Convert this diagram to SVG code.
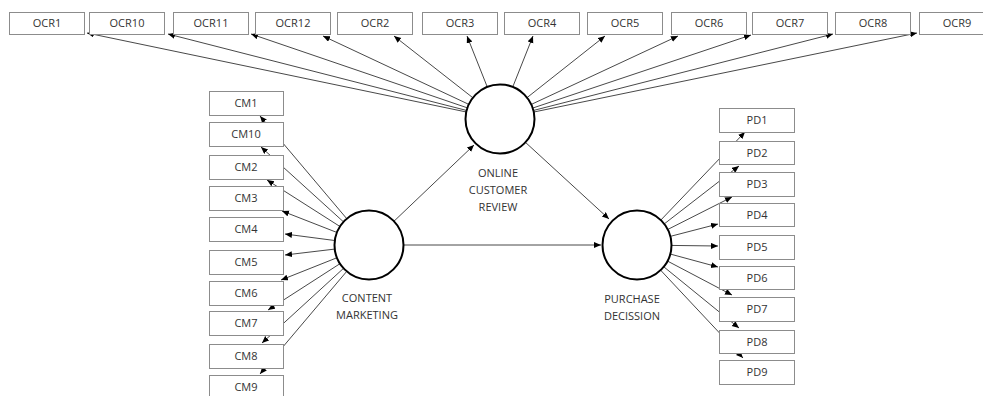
<svg xmlns="http://www.w3.org/2000/svg" width="983" height="396" viewBox="0 0 983 396">
<style>
.box{fill:#fff;stroke:#8c8c8c;stroke-width:1}
.lv{fill:#fff;stroke:#000;stroke-width:2}
.t{font-family:"Open Sans","Noto Sans",sans-serif;font-size:11px;fill:#333;text-anchor:middle}
.c{stroke:#333;stroke-width:0.9;fill:none;marker-end:url(#ah)}
</style>
<defs>
<marker id="ah" markerUnits="userSpaceOnUse" markerWidth="8" markerHeight="7" refX="7" refY="3" orient="auto">
<path d="M0,0 L7,3 L0,6 z" fill="#000"/>
</marker>
</defs>
<rect width="983" height="396" fill="#fff"/>
<g id="connectors">
<path class="c" d="M500,119 L87,33"/>
<path class="c" d="M500,119 L168,34"/>
<path class="c" d="M500,119 L251,34"/>
<path class="c" d="M500,119 L323,36"/>
<path class="c" d="M500,119 L394,36"/>
<path class="c" d="M500,119 L467,36"/>
<path class="c" d="M500,119 L533,36"/>
<path class="c" d="M500,119 L605,36"/>
<path class="c" d="M500,119 L678,36"/>
<path class="c" d="M500,119 L751,35"/>
<path class="c" d="M500,119 L833,34"/>
<path class="c" d="M500,119 L917,33"/>
<path class="c" d="M369,245 L260,116"/>
<path class="c" d="M369,245 L261,147"/>
<path class="c" d="M369,245 L267,180"/>
<path class="c" d="M369,245 L282,211"/>
<path class="c" d="M369,245 L285,234"/>
<path class="c" d="M369,245 L285,255"/>
<path class="c" d="M369,245 L281,280"/>
<path class="c" d="M369,245 L268,310"/>
<path class="c" d="M369,245 L262,343"/>
<path class="c" d="M369,245 L260,374"/>
<path class="c" d="M637,245 L745,132"/>
<path class="c" d="M637,245 L739,166"/>
<path class="c" d="M637,245 L732,197"/>
<path class="c" d="M637,245 L718,224"/>
<path class="c" d="M637,245 L718,246"/>
<path class="c" d="M637,245 L718,267"/>
<path class="c" d="M637,245 L732,295"/>
<path class="c" d="M637,245 L739,328"/>
<path class="c" d="M637,245 L743,358"/>
<path class="c" d="M369,245 L474,145"/>
<path class="c" d="M369,245 L601,245"/>
<path class="c" d="M500,119 L609,219"/>
</g>
<g id="OCR1"><rect class="box" x="9.5" y="12.5" width="75" height="22"/><text class="t" x="47" y="27">OCR1</text></g>
<g id="OCR10"><rect class="box" x="89.5" y="12.5" width="75" height="22"/><text class="t" x="127" y="27">OCR10</text></g>
<g id="OCR11"><rect class="box" x="173.5" y="12.5" width="75" height="22"/><text class="t" x="211" y="27">OCR11</text></g>
<g id="OCR12"><rect class="box" x="255.5" y="12.5" width="75" height="22"/><text class="t" x="293" y="27">OCR12</text></g>
<g id="OCR2"><rect class="box" x="337.5" y="12.5" width="75" height="22"/><text class="t" x="375" y="27">OCR2</text></g>
<g id="OCR3"><rect class="box" x="422.5" y="12.5" width="75" height="22"/><text class="t" x="460" y="27">OCR3</text></g>
<g id="OCR4"><rect class="box" x="504.5" y="12.5" width="75" height="22"/><text class="t" x="542" y="27">OCR4</text></g>
<g id="OCR5"><rect class="box" x="587.5" y="12.5" width="75" height="22"/><text class="t" x="625" y="27">OCR5</text></g>
<g id="OCR6"><rect class="box" x="671.5" y="12.5" width="75" height="22"/><text class="t" x="709" y="27">OCR6</text></g>
<g id="OCR7"><rect class="box" x="752.5" y="12.5" width="75" height="22"/><text class="t" x="790" y="27">OCR7</text></g>
<g id="OCR8"><rect class="box" x="835.5" y="12.5" width="75" height="22"/><text class="t" x="873" y="27">OCR8</text></g>
<g id="OCR9"><rect class="box" x="919.5" y="12.5" width="75" height="22"/><text class="t" x="957" y="27">OCR9</text></g>
<g id="CM1"><rect class="box" x="209.5" y="91.5" width="74" height="24"/><text class="t" x="246" y="107">CM1</text></g>
<g id="CM10"><rect class="box" x="209.5" y="122.5" width="74" height="24"/><text class="t" x="246" y="138">CM10</text></g>
<g id="CM2"><rect class="box" x="209.5" y="155.5" width="74" height="24"/><text class="t" x="246" y="171">CM2</text></g>
<g id="CM3"><rect class="box" x="209.5" y="186.5" width="74" height="24"/><text class="t" x="246" y="202">CM3</text></g>
<g id="CM4"><rect class="box" x="209.5" y="217.5" width="74" height="24"/><text class="t" x="246" y="233">CM4</text></g>
<g id="CM5"><rect class="box" x="209.5" y="250.5" width="74" height="24"/><text class="t" x="246" y="266">CM5</text></g>
<g id="CM6"><rect class="box" x="209.5" y="281.5" width="74" height="24"/><text class="t" x="246" y="297">CM6</text></g>
<g id="CM7"><rect class="box" x="209.5" y="311.5" width="74" height="24"/><text class="t" x="246" y="327">CM7</text></g>
<g id="CM8"><rect class="box" x="209.5" y="344.5" width="74" height="24"/><text class="t" x="246" y="360">CM8</text></g>
<g id="CM9"><rect class="box" x="209.5" y="375.5" width="74" height="24"/><text class="t" x="246" y="391">CM9</text></g>
<g id="PD1"><rect class="box" x="719.5" y="108.5" width="75" height="24"/><text class="t" x="757" y="124">PD1</text></g>
<g id="PD2"><rect class="box" x="719.5" y="141.5" width="75" height="23"/><text class="t" x="757" y="157">PD2</text></g>
<g id="PD3"><rect class="box" x="719.5" y="172.5" width="75" height="24"/><text class="t" x="757" y="188">PD3</text></g>
<g id="PD4"><rect class="box" x="719.5" y="203.5" width="75" height="23"/><text class="t" x="757" y="219">PD4</text></g>
<g id="PD5"><rect class="box" x="719.5" y="235.5" width="75" height="24"/><text class="t" x="757" y="251">PD5</text></g>
<g id="PD6"><rect class="box" x="719.5" y="266.5" width="75" height="23"/><text class="t" x="757" y="282">PD6</text></g>
<g id="PD7"><rect class="box" x="719.5" y="297.5" width="75" height="24"/><text class="t" x="757" y="313">PD7</text></g>
<g id="PD8"><rect class="box" x="719.5" y="330.5" width="75" height="23"/><text class="t" x="757" y="346">PD8</text></g>
<g id="PD9"><rect class="box" x="719.5" y="360.5" width="75" height="24"/><text class="t" x="757" y="376">PD9</text></g>
<g id="ONLINE_CUSTOMER_REVIEW"><circle class="lv" cx="500" cy="119" r="34.5"/><text class="t" x="498" y="177">ONLINE</text><text class="t" x="498" y="194">CUSTOMER</text><text class="t" x="498" y="211">REVIEW</text></g>
<g id="CONTENT_MARKETING"><circle class="lv" cx="369" cy="245" r="34.5"/><text class="t" x="367" y="302">CONTENT</text><text class="t" x="367" y="319">MARKETING</text></g>
<g id="PURCHASE_DECISSION"><circle class="lv" cx="637" cy="245" r="34.5"/><text class="t" x="632" y="303">PURCHASE</text><text class="t" x="632" y="320">DECISSION</text></g>
</svg>
